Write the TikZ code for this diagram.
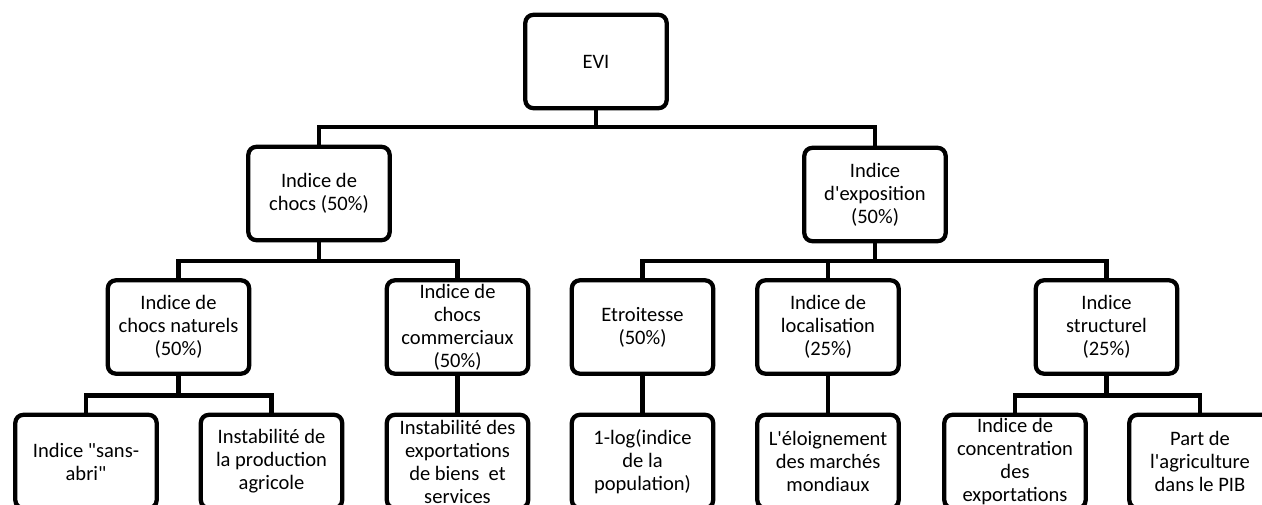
\documentclass[tikz,border=0pt]{standalone}
\usepackage{fontspec}
\newfontfamily\carl{Carlito}
\begin{document}
\begin{tikzpicture}[x=0.75pt,y=-0.75pt,
  box/.style={draw=black,line width=3.2pt,rounded corners=6pt,
    minimum width=106pt,minimum height=70pt,align=center,inner sep=0pt,
    font=\carl\fontsize{15.4}{17.25}\selectfont,text=black},
  conn/.style={draw=black,line width=3.5pt}]
\useasboundingbox (0,0) rectangle (1262,504);
\clip (0,0) rectangle (1262,504);
% level 1
\node[box] (evi) at (596,61.5) {EVI};
% level 2
\node[box] (chocs) at (319,193.5) {Indice de\\chocs (50\%)};
\node[box] (expo) at (875,194.5) {Indice\\d'exposition\\(50\%)};
% level 3
\node[box] (nat) at (178.5,327) {Indice de\\chocs naturels\\(50\%)};
\node[box] (com) at (457.5,327) {Indice de\\chocs\\commerciaux\\(50\%)};
\node[box] (etr) at (642.5,327) {Etroitesse\\(50\%)};
\node[box] (loc) at (828,327) {Indice de\\localisation\\(25\%)};
\node[box] (str) at (1106.5,327) {Indice\\structurel\\(25\%)};
% level 4
\node[box] (sans) at (86,461.5) {Indice "sans-\\abri"};
\node[box] (prod) at (271.5,461.5) {Instabilit\'e de\\la production\\agricole};
\node[box] (exp) at (457.5,461.5) {Instabilit\'e des\\exportations\\de biens~ et\\services};
\node[box] (log) at (642.5,461.5) {1-log(indice\\de la\\population)};
\node[box] (elo) at (828,461.5) {L'\'eloignement\\des march\'es\\mondiaux};
\node[box] (conc) at (1015,461.5) {Indice de\\concentration\\des\\exportations};
\node[box] (part) at (1200,461.5) {Part de\\l'agriculture\\dans le PIB};
% buses
\coordinate (b1) at (0,127);
\coordinate (b2) at (0,261);
\coordinate (b3) at (0,395.5);
% connectors
\draw[conn] (evi.south) -- (evi.south |- b1);
\draw[conn] (chocs.north) |- (expo.north |- b1) -- (expo.north);
\draw[conn] (chocs.south) -- (chocs.south |- b2);
\draw[conn] (nat.north) |- (com.north |- b2) -- (com.north);
\draw[conn] (expo.south) -- (expo.south |- b2);
\draw[conn] (etr.north) |- (str.north |- b2) -- (str.north);
\draw[conn] (loc.north) -- (loc.north |- b2);
\draw[conn] (nat.south) -- (nat.south |- b3);
\draw[conn] (sans.north) |- (prod.north |- b3) -- (prod.north);
\draw[conn] (com.south) -- (exp.north);
\draw[conn] (etr.south) -- (log.north);
\draw[conn] (loc.south) -- (elo.north);
\draw[conn] (str.south) -- (str.south |- b3);
\draw[conn] (conc.north) |- (part.north |- b3) -- (part.north);
\end{tikzpicture}
\end{document}
